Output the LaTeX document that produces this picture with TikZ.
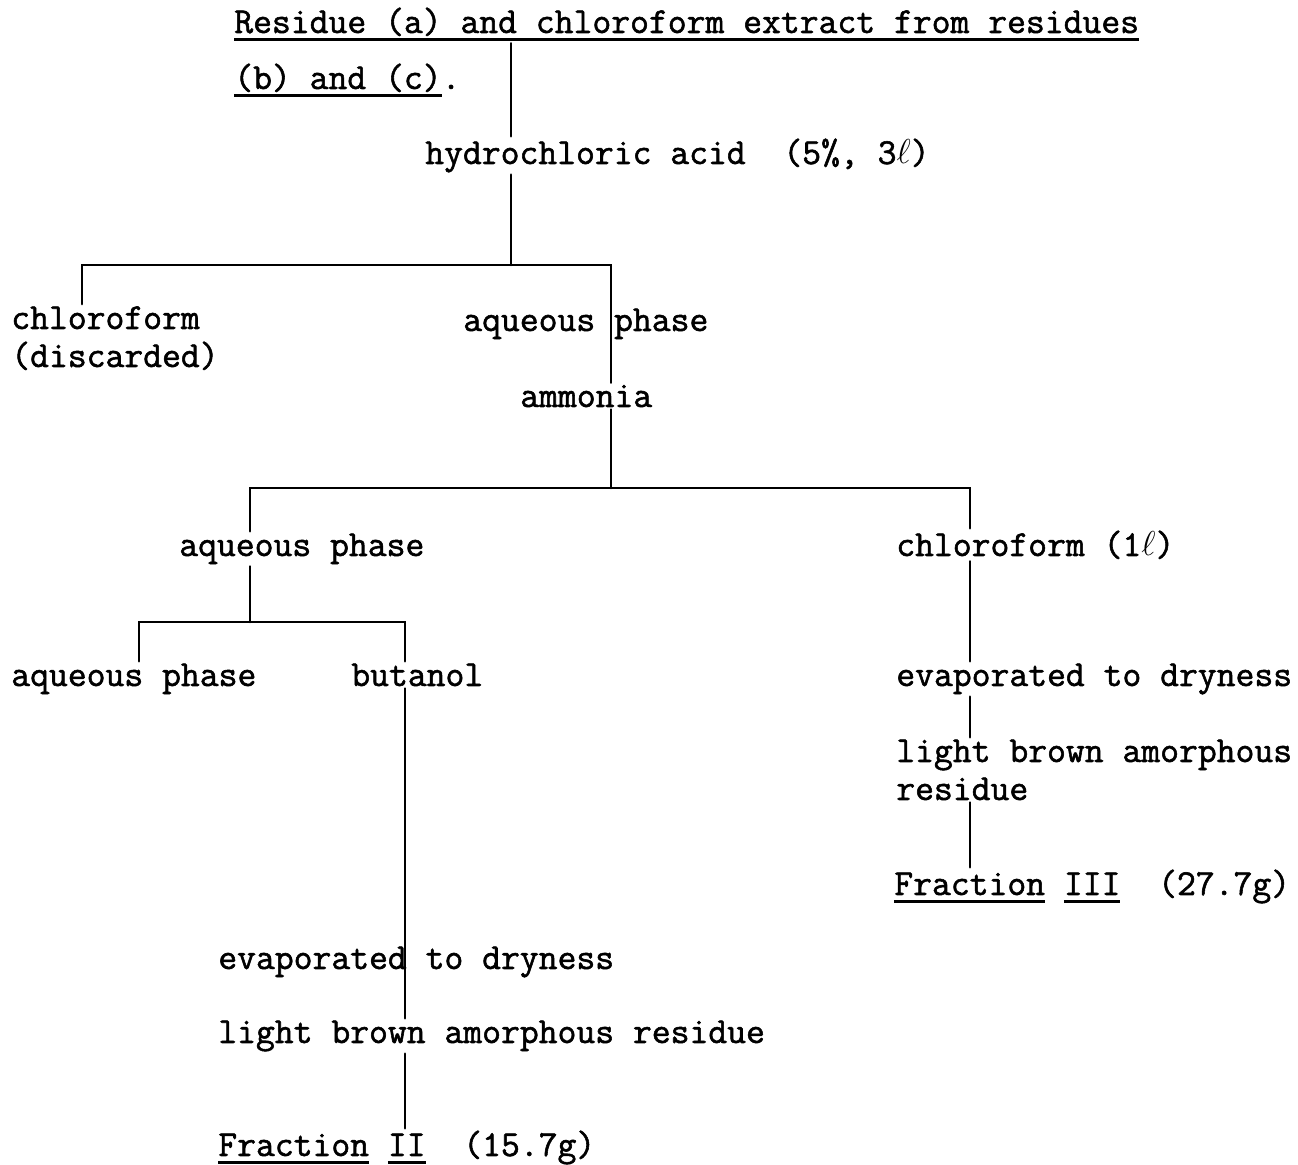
\documentclass[tikz,border=0pt]{standalone}
\usepackage{fontspec}
\setmonofont{Latin Modern Mono}[FakeBold=1.5]
\newsavebox{\ulbox}
% typed underline, a bit heavier than \underline
\newcommand{\typeul}[1]{\sbox{\ulbox}{#1}\rlap{\rule[-4pt]{\wd\ulbox}{1.3pt}}\usebox{\ulbox}}
\begin{document}
\begin{tikzpicture}[x=0.5pt,y=-0.5pt,line width=1.3pt,line cap=round,
		every node/.style={font=\ttfamily\bfseries\fontsize{18.3}{19}\selectfont,inner sep=0.5pt,anchor=base west,align=left}]
	\useasboundingbox (0,0) rectangle (1298,1165);
	% branch points
	\path (82,265) coordinate (a1)
		(511,265) coordinate (a2)
		(611,265) coordinate (a3)
		(250,488) coordinate (b1)
		(611,488) coordinate (b2)
		(970,488) coordinate (b3)
		(139,622) coordinate (c1)
		(250,622) coordinate (c2)
		(405,622) coordinate (c3);
	\node (start) at (232,33) {\typeul{Residue (a) and chloroform extract from residues}};
	\node (start2) at (232,89) {\typeul{(b) and (c)}.};
	\node (hcl) at (423,164) {hydrochloric acid~~(5\%, 3$\ell$)};
	% base of a two-line node sits on its last line
	\node (chl1) at (9,367) {chloroform\\(discarded)};
	\node (aq1) at (461,331) {aqueous phase};
	\node (amm) at (518,407) {ammonia};
	\node (aq2) at (177,556) {aqueous phase};
	\node (chl2) at (894,556) {chloroform (1$\ell$)};
	\node (aq3) at (9,686) {aqueous phase};
	\node (but) at (349,686) {butanol};
	\node (evap2) at (894,686) {evaporated to dryness};
	\node (res2) at (894,800) {light brown amorphous\\residue};
	\node (frac3) at (892,895) {\typeul{Fraction} \typeul{III}~~(27.7g)};
	\node (evap1) at (216,969) {evaporated to dryness};
	\node (res1) at (216,1043) {light brown amorphous residue};
	\node (frac2) at (216,1156) {\typeul{Fraction} \typeul{II}~~(15.7g)};
	% acid wash
	\draw (start.south -| a2) -- (hcl.north -| a2);
	\draw (hcl.south -| a2) -- (a2);
	\draw (chl1.north -| a1) -- (a1) -- (a3) -- (amm.north -| a3);
	% ammonia split
	\draw (amm.south -| a3) -- (b2);
	\draw (aq2.north -| b1) -- (b1) -- (b3) -- (chl2.north -| b3);
	% butanol split
	\draw (aq2.south -| b1) -- (c2);
	\draw (aq3.north -| c1) -- (c1) -- (c3) -- (but.north -| c3);
	\draw (but.south -| c3) -- (res1.north -| c3);
	\draw (res1.south -| c3) -- (frac2.north -| c3);
	% chloroform side
	\draw (chl2.south -| b3) -- (evap2.north -| b3);
	\draw (evap2.south -| b3) -- (res2.north -| b3);
	\draw (res2.south -| b3) -- (frac3.north -| b3);
\end{tikzpicture}
\end{document}
